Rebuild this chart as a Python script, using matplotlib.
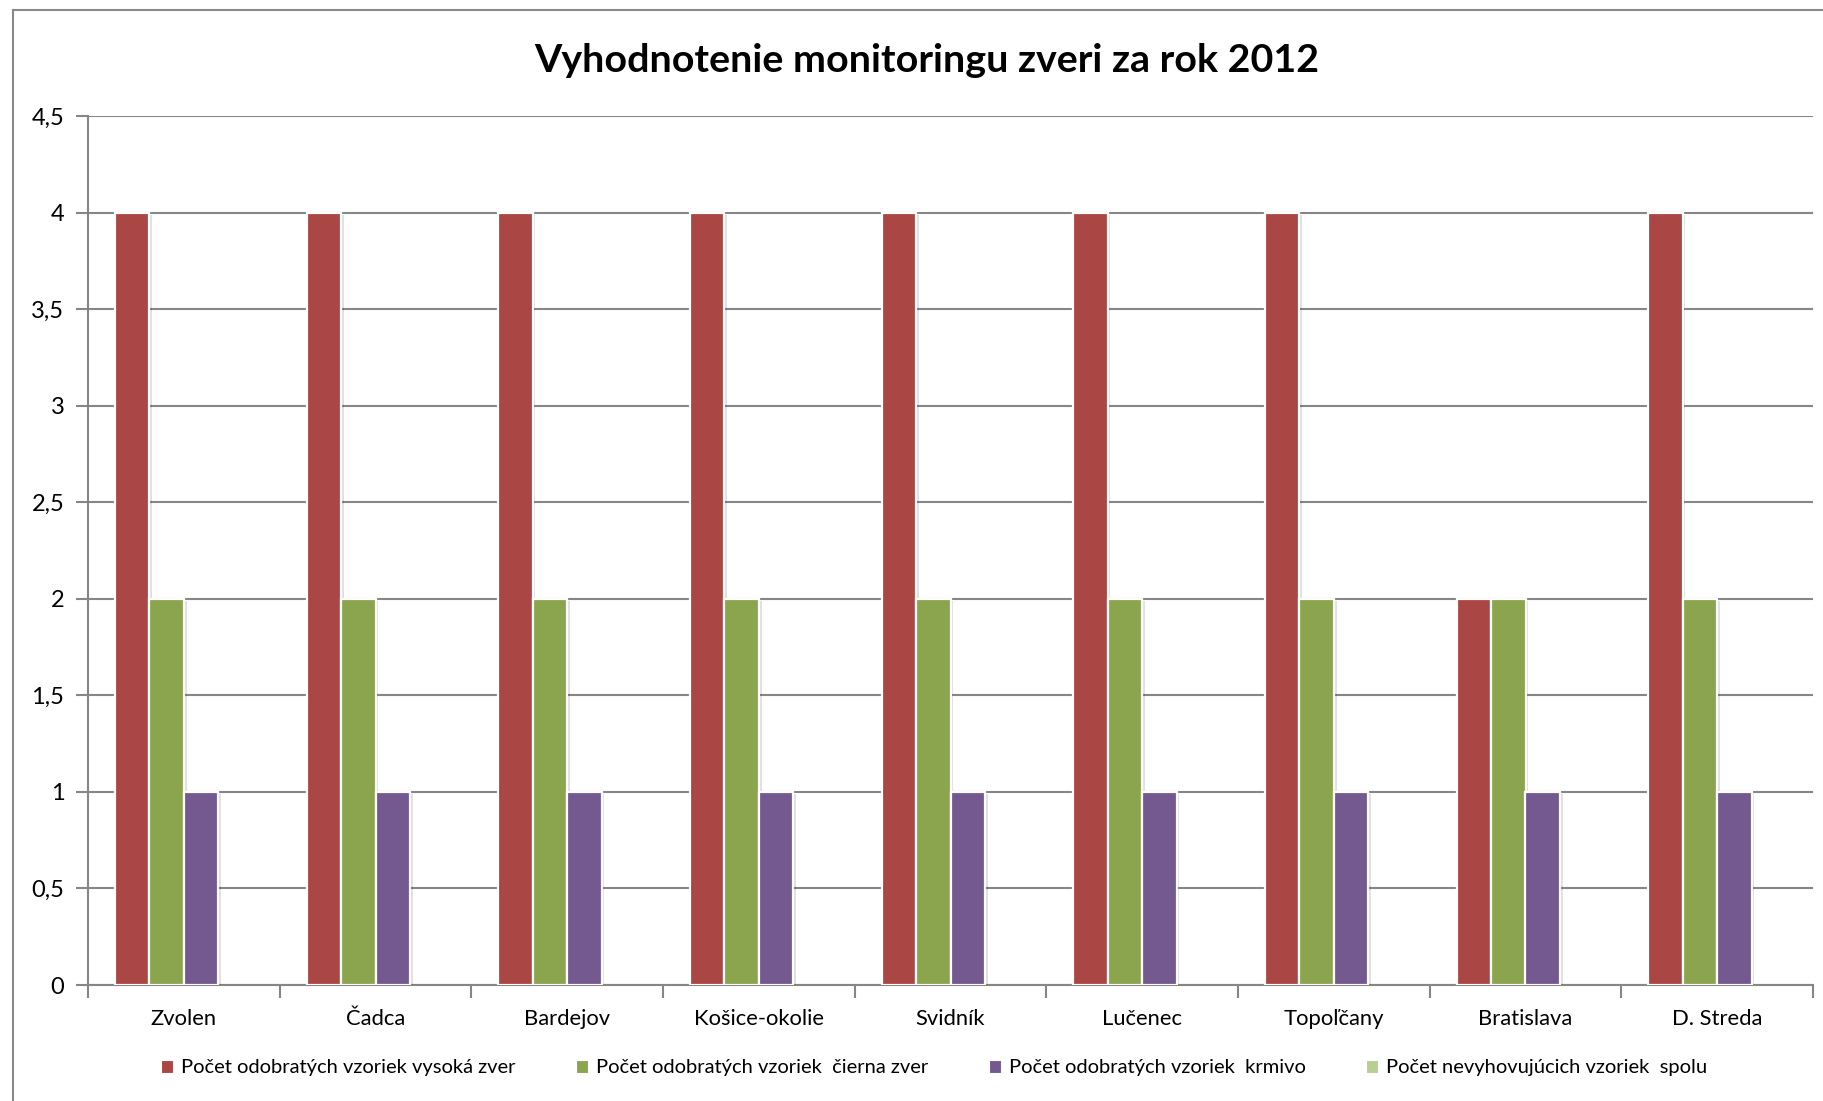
import matplotlib
matplotlib.use("Agg")
import matplotlib.pyplot as plt
import numpy as np
from matplotlib import patheffects as pe
from matplotlib.lines import Line2D
from matplotlib.ticker import FuncFormatter, FixedLocator

plt.rcParams['font.family'] = ['Lato', 'DejaVu Sans']

categories = ["Zvolen", "Čadca", "Bardejov", "Košice-okolie", "Svidník",
              "Lučenec", "Topoľčany", "Bratislava", "D. Streda"]
series_names = ["Počet odobratých vzoriek vysoká zver",
                "Počet odobratých vzoriek  čierna zver",
                "Počet odobratých vzoriek  krmivo",
                "Počet nevyhovujúcich vzoriek  spolu"]
vysoka = [4, 4, 4, 4, 4, 4, 4, 2, 4]
cierna = [2, 2, 2, 2, 2, 2, 2, 2, 2]
krmivo = [1, 1, 1, 1, 1, 1, 1, 1, 1]
nevyhovujuce = [0, 0, 0, 0, 0, 0, 0, 0, 0]
colors = ["#AA4644", "#8BA54F", "#735990", "#B9CE92"]
title = "Vyhodnotenie monitoringu zveri za rok 2012"

W, H = 1823, 1101
fig = plt.figure(figsize=(W / 100, H / 100), dpi=100)
ax = fig.add_axes([88 / W, 1 - 985 / H, (1813 - 88) / W, (985 - 116) / H])

data = [vysoka, cierna, krmivo, nevyhovujuce]
n = len(categories)
x = np.arange(n)
bw = 0.18
shadow = [pe.SimplePatchShadow(offset=(2, -1.5), shadow_rgbFace="#000000", alpha=0.12), pe.Normal()]
for i, (vals, c, name) in enumerate(zip(data, colors, series_names)):
    bars = ax.bar(x + (i - 1.5) * bw, vals, width=bw, color=c, edgecolor="white",
                  linewidth=1.6, label=name, zorder=3)
    for b in bars:
        if b.get_height() > 0:
            b.set_path_effects(shadow)
        else:
            b.set_linewidth(0)

ax.set_xlim(-0.5, n - 0.5)
ax.set_ylim(0, 4.5)
ax.set_yticks(np.arange(0, 4.51, 0.5))
ax.yaxis.set_major_formatter(FuncFormatter(lambda v, p: (("%g" % v).replace(".", ","))))
ax.grid(axis="y", color="#868686", linewidth=1.5, zorder=1)
ax.set_axisbelow(True)

ax.set_xticks(x)
ax.set_xticklabels(categories)
ax.xaxis.set_minor_locator(FixedLocator(np.arange(-0.5, n, 1.0)))
ax.tick_params(axis="x", which="major", length=0, pad=17, labelsize=15.8)
ax.tick_params(axis="x", which="minor", length=9, width=1.5, color="#868686", direction="out")
ax.tick_params(axis="y", length=9, width=1.5, color="#868686", direction="out", pad=8, labelsize=17)

for s in ["top", "right"]:
    ax.spines[s].set_visible(False)
for s in ["left", "bottom"]:
    ax.spines[s].set_color("#868686")
    ax.spines[s].set_linewidth(1.5)

fig.text(927 / W, 1 - 60 / H, title, ha="center", va="center",
         fontsize=28.4, fontweight="bold")

leg = fig.legend(loc="center", bbox_to_anchor=(934 / W, 1 - 1068 / H), ncol=4,
                 frameon=False, fontsize=14.5, handlelength=0.6, handleheight=0.6,
                 handletextpad=0.4, columnspacing=3.0)
for h in leg.legend_handles:
    h.set_path_effects([])
    h.set_linewidth(0.8)

# outer border (top and left only visible)
fig.add_artist(Line2D([13 / W, 1.0], [1 - 10 / H, 1 - 10 / H], color="#898989", linewidth=1.5,
                      transform=fig.transFigure))
fig.add_artist(Line2D([13 / W, 13 / W], [0.0, 1 - 10 / H], color="#898989", linewidth=1.5,
                      transform=fig.transFigure))

fig.savefig("out.png", dpi=100, facecolor="white")
